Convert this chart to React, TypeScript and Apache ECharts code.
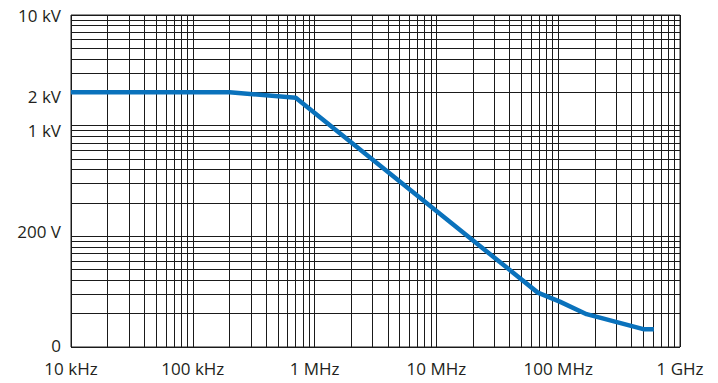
import React, { useEffect, useRef } from "react";
import * as echarts from "echarts";

// Frequency (Hz) and voltage positions
const freqHz = [1e4, 2e5, 7e5, 6.8e7, 1.03e8, 1.71e8, 5.0e8, 6.1e8];
const voltage = [2000, 2000, 1790, 31, 25.7, 19.8, 14.5, 14.5];

const xTickValues = [1e4, 1e5, 1e6, 1e7, 1e8, 1e9];
const xTickLabels = ["10 kHz", "100 kHz", "1 MHz", "10 MHz", "100 MHz", "1 GHz"];
const yTickValues = [10, 100, 1000, 2000, 10000];
const yTickLabels = ["0", "200 V", "1 kV", "2 kV", "10 kV"];
const yLabelStyles = ["z", "up", "dn", "dn", "n"];

function gridValues(from: number, to: number): number[] {
  const out: number[] = [];
  for (let d = from; d < to; d *= 10) {
    for (let m = 1; m < 10; m++) out.push(d * m);
  }
  out.push(to);
  return out;
}

export default function App() {
  const ref = useRef<HTMLDivElement>(null);
  useEffect(() => {
    if (!ref.current) return;
    const chart = echarts.init(ref.current, null, { renderer: "svg" });
    const font = "Open Sans";
    const txt = { fontFamily: font, fontSize: 17, color: "#231f20" };
    chart.setOption({
      animation: false,
      backgroundColor: "#ffffff",
      grid: {
        left: 71,
        right: 38,
        top: 15,
        bottom: 36,
        show: true,
        borderColor: "#222",
        borderWidth: 1,
      },
      xAxis: {
        type: "log",
        min: 1e4,
        max: 1e9,
        axisLine: { show: false },
        axisTick: { show: false, customValues: gridValues(1e4, 1e9) },
        splitLine: { show: true, lineStyle: { color: "#1a1a1a", width: 1 } },
        axisLabel: {
          customValues: xTickValues,
          margin: 13,
          ...txt,
          formatter: (v: number) => {
            const i = xTickValues.findIndex((t) => Math.abs(t - v) / t < 1e-6);
            return i >= 0 ? xTickLabels[i] : "";
          },
        },
      },
      yAxis: {
        type: "log",
        min: 10,
        max: 10000,
        axisLine: { show: false },
        axisTick: { show: false, customValues: gridValues(10, 10000) },
        splitLine: { show: true, lineStyle: { color: "#1a1a1a", width: 1 } },
        axisLabel: {
          customValues: yTickValues,
          margin: 10,
          ...txt,
          rich: {
            n: { ...txt },
            z: { ...txt, lineHeight: 14, padding: [0, 0, 4, 0] },
            up: { ...txt, padding: [0, 0, 10, 0] },
            dn: { ...txt, padding: [9, 0, 0, 0] },
          },
          formatter: (v: number) => {
            const i = yTickValues.findIndex((t) => Math.abs(t - v) / t < 1e-6);
            return i >= 0 ? `{${yLabelStyles[i]}|${yTickLabels[i]}}` : "";
          },
        },
      },
      series: [
        {
          type: "line",
          data: freqHz.map((f, i) => [f, voltage[i]]),
          showSymbol: false,
          lineStyle: { color: "#0a72bc", width: 4.5 },
          z: 5,
        },
      ],
    });
    return () => chart.dispose();
  }, []);
  return (
    <div
      ref={ref}
      style={{ position: "fixed", left: 0, top: 0, width: 718, height: 383 }}
    />
  );
}
